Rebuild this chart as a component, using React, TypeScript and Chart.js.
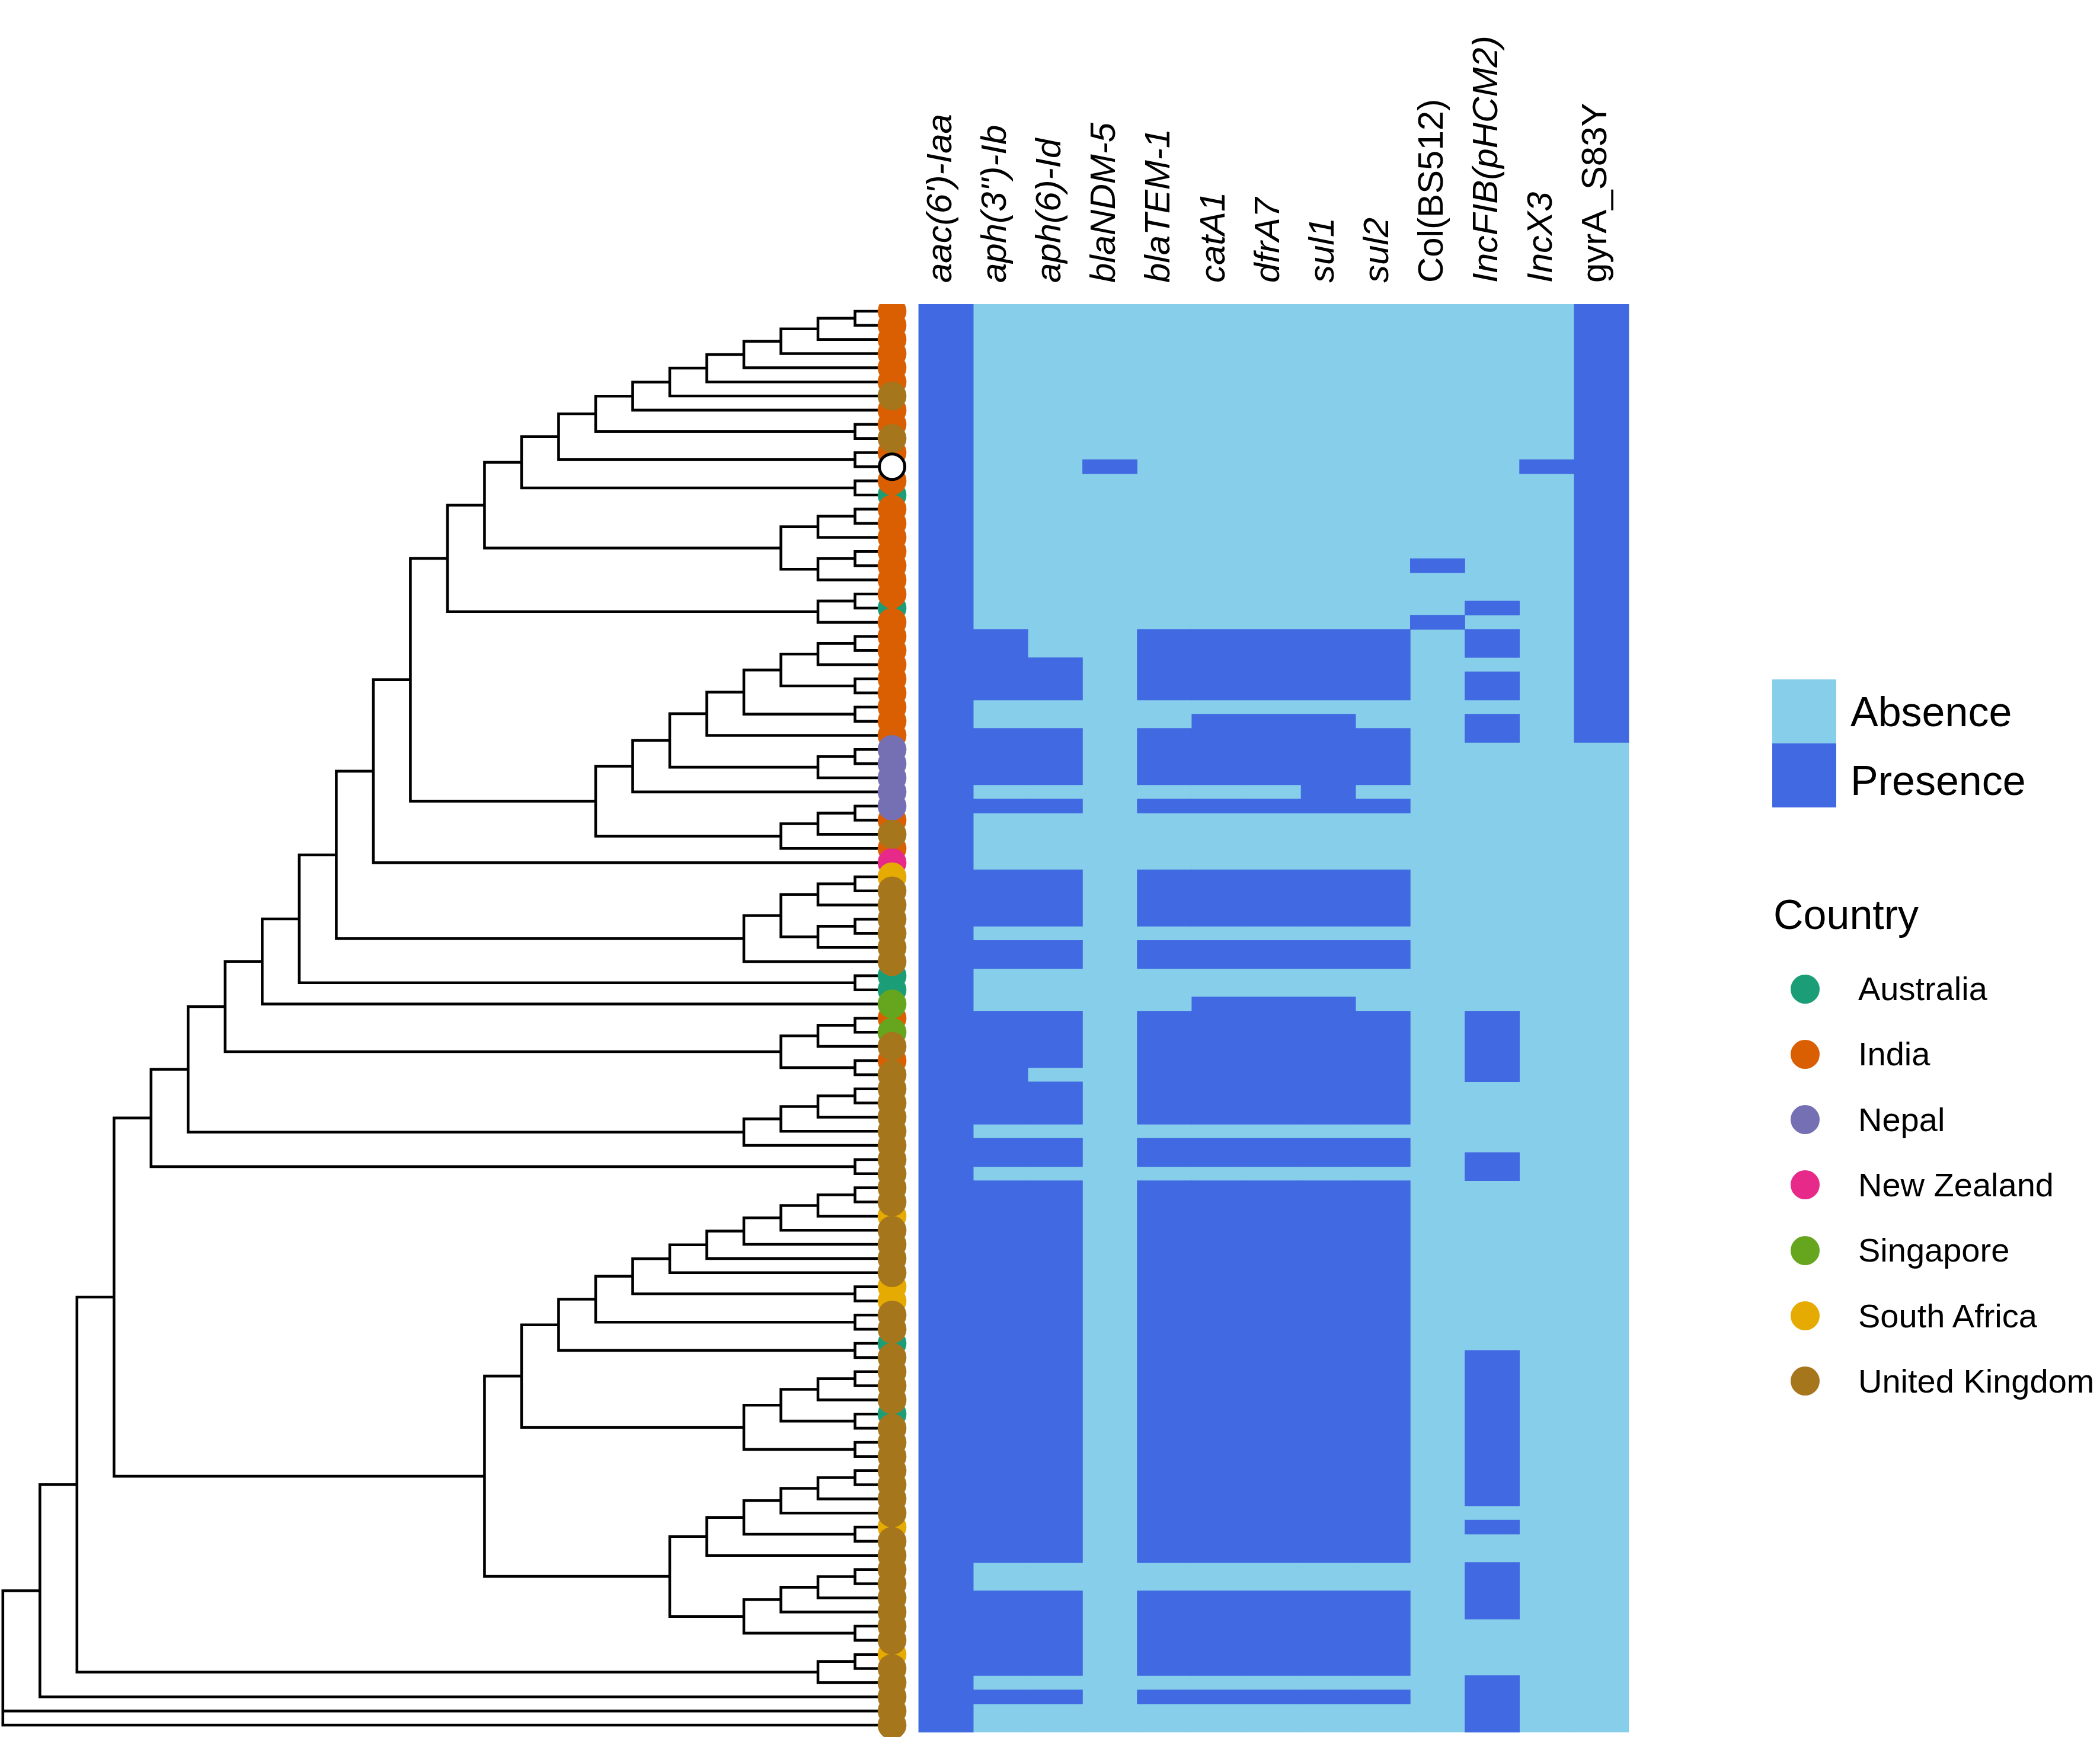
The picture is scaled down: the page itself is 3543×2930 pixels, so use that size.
import React, { useEffect, useRef } from "react";
import { Chart, registerables } from "chart.js";

Chart.register(...registerables);

// ---------------- data ----------------
const genes = [
  "aac(6')-Iaa",
  "aph(3'')-Ib",
  "aph(6)-Id",
  "blaNDM-5",
  "blaTEM-1",
  "catA1",
  "dfrA7",
  "sul1",
  "sul2",
  "Col(BS512)",
  "IncFIB(pHCM2)",
  "IncX3",
  "gyrA_S83Y",
];
const geneItalic = [true, true, true, true, true, true, true, true, true, false, true, true, false];

// presence of each gene: inclusive ranges of tip rows (row 0 = top tip)
const presAac: number[][] = [[0, 100]];
const presAph3: number[][] = [[23, 27], [30, 33], [35, 35], [40, 43], [45, 46], [50, 57], [59, 60], [62, 88], [91, 96], [98, 98]];
const presAph6: number[][] = [[25, 27], [30, 33], [35, 35], [40, 43], [45, 46], [50, 53], [55, 57], [59, 60], [62, 88], [91, 96], [98, 98]];
const presNdm: number[][] = [[11, 11]];
const presTem: number[][] = [[23, 27], [30, 33], [35, 35], [40, 43], [45, 46], [50, 57], [59, 60], [62, 88], [91, 96], [98, 98]];
const presCat: number[][] = [[23, 27], [29, 33], [35, 35], [40, 43], [45, 46], [49, 57], [59, 60], [62, 88], [91, 96], [98, 98]];
const presDfr: number[][] = [[23, 27], [29, 33], [35, 35], [40, 43], [45, 46], [49, 57], [59, 60], [62, 88], [91, 96], [98, 98]];
const presSul1: number[][] = [[23, 27], [29, 35], [40, 43], [45, 46], [49, 57], [59, 60], [62, 88], [91, 96], [98, 98]];
const presSul2: number[][] = [[23, 27], [30, 33], [35, 35], [40, 43], [45, 46], [50, 57], [59, 60], [62, 88], [91, 96], [98, 98]];
const presCol: number[][] = [[18, 18], [22, 22]];
const presIncFIB: number[][] = [[21, 21], [23, 24], [26, 27], [29, 30], [50, 54], [60, 61], [74, 84], [86, 86], [89, 92], [97, 100]];
const presIncX3: number[][] = [[11, 11]];
const presGyrA: number[][] = [[0, 30]];
const presence = [presAac, presAph3, presAph6, presNdm, presTem, presCat, presDfr, presSul1, presSul2, presCol, presIncFIB, presIncX3, presGyrA];

const NROWS = 101;
const statusLabels = ["Absence", "Presence"];
const statusColors = ["#87CEEB", "#4169E1"];

const countries = ["Australia", "India", "Nepal", "New Zealand", "Singapore", "South Africa", "United Kingdom"];
const countryColors = ["#1B9E77", "#D95F02", "#7570B3", "#E7298A", "#66A61E", "#E6AB02", "#A6761D"];

// country of each tip, top to bottom, as [country, number of consecutive tips]
const tipRuns: [string, number][] = [
  ["India", 6], ["United Kingdom", 1], ["India", 2], ["United Kingdom", 1], ["India", 1],
  ["Reference", 1], ["India", 1], ["Australia", 1], ["India", 7], ["Australia", 1], ["India", 9],
  ["Nepal", 5], ["India", 1], ["United Kingdom", 1], ["India", 1], ["New Zealand", 1], ["South Africa", 1],
  ["United Kingdom", 6], ["Australia", 2], ["Singapore", 1], ["India", 1], ["Singapore", 1],
  ["United Kingdom", 1], ["India", 1], ["United Kingdom", 10], ["South Africa", 1], ["United Kingdom", 4],
  ["South Africa", 2], ["United Kingdom", 2], ["Australia", 1], ["United Kingdom", 4], ["Australia", 1],
  ["United Kingdom", 7], ["South Africa", 1], ["United Kingdom", 8], ["South Africa", 1], ["United Kingdom", 5],
];

// tree (tips = row numbers, internal node label = node depth in branch steps)
const TIP_DEPTH = 24;
const cladeIndiaTop =
  "((((((((((((0,1)23,2)22,3)21,4)20,5)19,6)18,7)17,(8,9)23)16,(10,11)23)15,(12,13)23)14,(((14,15)23,16)22,((17,18)23,19)22)21)13,((20,21)23,22)22)12";
const cladeIndiaLow = "(((((23,24)23,25)22,(26,27)23)21,(28,29)23)20,30)19";
const cladeNepal = "((31,32)23,33)22";
const cladeMixA = "(((35,36)23,37)22,38)21";
const cladeUkA = "((((40,41)23,42)22,((43,44)23,45)22)21,46)20";
const cladeSgp = "(((50,51)23,52)22,(53,54)23)21";
const cladeUkB = "((((55,56)23,57)22,58)21,59)20";
const cladeUkC = "(((((((((62,63)23,64)22,65)21,66)20,67)19,68)18,(69,70)23)17,(71,72)23)16,(73,74)23)15";
const cladeUkD = "((((75,76)23,77)22,(78,79)23)21,(80,81)23)20";
const cladeUkE = "(((((82,83)23,84)22,85)21,(86,87)23)20,88)19";
const cladeUkF = "((((89,90)23,91)22,92)21,(93,94)23)20";
const cladeUkG = "((95,96)23,97)22";

const cladeD16 = `(((${cladeIndiaLow},${cladeNepal})18,34)17,${cladeMixA})16`;
const cladeD4 = `(((((((((${cladeIndiaTop},${cladeD16})11,39)10,${cladeUkA})9,(47,48)23)8,49)7,${cladeSgp})6,${cladeUkB})5,(60,61)23)4`;
const cladeD13 = `((${cladeUkC},${cladeUkD})14,(${cladeUkE},${cladeUkF})18)13`;
const newick = `((((${cladeD4},${cladeD13})3,${cladeUkG})2,98)1,99,100)0`;

// ---------------- layout ----------------
const W = 3543;
const H = 2930;
const FONT = "'Liberation Sans', Arial, Helvetica, sans-serif";
const TOP = 513; // top edge of heatmap / plot area
const ROW_H = 23.85;
const TREE_X0 = 4.8;
const TREE_UNIT = 62.51;
const HEAT_X0 = 1550;
const HEAT_COL = 92.15;

const TREE_MIN = -TREE_X0 / TREE_UNIT;
const TREE_MAX = (W - TREE_X0) / TREE_UNIT;
const HEAT_MIN = -HEAT_X0 / HEAT_COL;
const HEAT_MAX = (W - HEAT_X0) / HEAT_COL;
const Y_MIN = -0.5;
const Y_MAX = -0.5 + (H - TOP) / ROW_H;

type TNode = { depth: number; tip?: number; children?: TNode[]; y: number };

function parseTree(s: string): TNode {
  let i = 0;
  const num = () => {
    const j = i;
    while (i < s.length && /[0-9.]/.test(s[i])) i++;
    return parseFloat(s.slice(j, i));
  };
  const node = (): TNode => {
    if (s[i] === "(") {
      i++;
      const children: TNode[] = [node()];
      while (s[i] === ",") {
        i++;
        children.push(node());
      }
      i++;
      const depth = num();
      const y = (children[0].y + children[children.length - 1].y) / 2;
      return { depth, children, y };
    }
    const t = num();
    return { depth: TIP_DEPTH, tip: t, y: t };
  };
  return node();
}

function treePoints(n: TNode, out: any[]) {
  if (!n.children) return;
  n.children.forEach((c) => treePoints(c, out));
  const f = n.children[0];
  const l = n.children[n.children.length - 1];
  out.push({ x: f.depth, y: f.y }, { x: n.depth, y: f.y }, { x: n.depth, y: l.y }, { x: l.depth, y: l.y }, { x: l.depth, y: null });
  for (let k = 1; k < n.children.length - 1; k++) {
    const c = n.children[k];
    out.push({ x: n.depth, y: c.y }, { x: c.depth, y: c.y }, { x: c.depth, y: null });
  }
}

function zeroPadding(s: any) {
  s.paddingLeft = 0;
  s.paddingRight = 0;
  s.paddingTop = 0;
  s.paddingBottom = 0;
}

function fixRange(min: number, max: number) {
  return (s: any) => {
    s.min = min;
    s.max = max;
  };
}

function buildConfig(): any {
  const tree = parseTree(newick);
  const pts: any[] = [];
  treePoints(tree, pts);

  const tipCountry: string[] = [];
  tipRuns.forEach(([c, n]) => {
    for (let k = 0; k < n; k++) tipCountry.push(c);
  });

  const absence = genes.map((_, g) => ({ x: g + 0.5, y: [-0.5, NROWS - 0.5] }));
  const pres: any[] = [];
  presence.forEach((ranges, g) => ranges.forEach(([a, b]) => pres.push({ x: g + 0.5, y: [a - 0.5, b + 0.5] })));

  const barCommon = {
    type: "bar",
    xAxisID: "xHeat",
    yAxisID: "y",
    grouped: false,
    barPercentage: 1,
    categoryPercentage: 1,
    borderWidth: 0,
    borderSkipped: false,
  };

  const datasets: any[] = [
    { ...barCommon, label: statusLabels[0], data: absence, backgroundColor: statusColors[0], order: 100 },
    { ...barCommon, label: statusLabels[1], data: pres, backgroundColor: statusColors[1], order: 99 },
    {
      type: "line",
      label: "tree",
      xAxisID: "xTree",
      yAxisID: "y",
      data: pts,
      borderColor: "#000000",
      borderWidth: 4.6,
      pointRadius: 0,
      spanGaps: false,
      tension: 0,
      fill: false,
      borderJoinStyle: "miter",
      borderCapStyle: "butt",
      order: 98,
    },
  ];
  countries.forEach((c, ci) => {
    datasets.push({
      type: "scatter",
      label: c,
      xAxisID: "xTree",
      yAxisID: "y",
      data: tipCountry.map((tc, r) => (tc === c ? { x: TIP_DEPTH, y: r } : null)).filter((p) => p),
      backgroundColor: countryColors[ci],
      borderWidth: 0,
      pointRadius: 24.3,
      order: 20 - ci,
    });
  });
  datasets.push({
    type: "scatter",
    label: "Reference",
    xAxisID: "xTree",
    yAxisID: "y",
    data: tipCountry.map((tc, r) => (tc === "Reference" ? { x: TIP_DEPTH, y: r } : null)).filter((p) => p),
    backgroundColor: "#ffffff",
    borderColor: "#000000",
    borderWidth: 5,
    pointRadius: 21.5,
    order: 1,
  });

  return {
    type: "scatter",
    data: { datasets },
    options: {
      animation: false,
      responsive: false,
      maintainAspectRatio: false,
      devicePixelRatio: 1,
      events: [],
      layout: { padding: 0, autoPadding: false },
      plugins: { legend: { display: false }, tooltip: { enabled: false }, title: { display: false } },
      scales: {
        xTree: {
          type: "linear",
          axis: "x",
          display: false,
          offset: false,
          bounds: "data",
          min: TREE_MIN,
          max: TREE_MAX,
          afterBuildTicks: fixRange(TREE_MIN, TREE_MAX),
          afterFit: zeroPadding,
        },
        xHeat: {
          type: "linear",
          axis: "x",
          position: "top",
          offset: false,
          bounds: "data",
          min: HEAT_MIN,
          max: HEAT_MAX,
          grid: { display: false, drawTicks: false, offset: false },
          border: { display: false },
          afterBuildTicks: (s: any) => {
            s.ticks = genes.map((_, i) => ({ value: i + 0.5 }));
            s.min = HEAT_MIN;
            s.max = HEAT_MAX;
          },
          afterFit: (s: any) => {
            s.height = TOP;
            zeroPadding(s);
          },
          ticks: {
            autoSkip: false,
            minRotation: 90,
            maxRotation: 90,
            padding: 36,
            labelOffset: 64,
            color: "#000000",
            font: (ctx: any) => ({ family: FONT, size: 60, style: geneItalic[ctx.index] ? "italic" : "normal" }),
            callback: (_v: any, i: number) => genes[i],
          },
        },
        y: {
          type: "linear",
          axis: "y",
          display: false,
          offset: false,
          reverse: true,
          bounds: "data",
          min: Y_MIN,
          max: Y_MAX,
          afterBuildTicks: fixRange(Y_MIN, Y_MAX),
          afterFit: zeroPadding,
        },
      },
    },
  };
}

// legend geometry (px)
const KEY_X = 2990;
const KEY_SIZE = 108;
const KEY_TOPS = [1146, 1254];
const KEY_TEXT_X = 3122;
const KEY_TEXT_CY = [1201, 1317];
const TITLE_CY = 1543;
const TITLE_X = 2992;
const DOT_CX = 3045;
const DOT_D = 49;
const DOT_CY0 = 1668;
const DOT_STEP = 110.3;
const DOT_TEXT_X = 3135;

function TextAt({ x, cy, size, children }: { x: number; cy: number; size: number; children: React.ReactNode }) {
  return (
    <div
      style={{
        position: "absolute",
        left: x,
        top: cy - 60,
        height: 120,
        lineHeight: "120px",
        fontSize: size,
        fontFamily: FONT,
        color: "#000",
        whiteSpace: "nowrap",
      }}
    >
      {children}
    </div>
  );
}

export default function App() {
  const canvasRef = useRef<HTMLCanvasElement>(null);
  useEffect(() => {
    document.body.style.margin = "0";
    const chart = new Chart(canvasRef.current as HTMLCanvasElement, buildConfig());
    return () => chart.destroy();
  }, []);
  return (
    <div style={{ position: "relative", width: W, height: H, background: "#ffffff", overflow: "hidden" }}>
      <canvas ref={canvasRef} width={W} height={H} style={{ position: "absolute", left: 0, top: 0, width: W, height: H }} />
      {statusLabels.map((s, i) => (
        <React.Fragment key={s}>
          <div
            style={{
              position: "absolute",
              left: KEY_X,
              top: KEY_TOPS[i],
              width: KEY_SIZE,
              height: KEY_SIZE,
              background: statusColors[i],
            }}
          />
          <TextAt x={KEY_TEXT_X} cy={KEY_TEXT_CY[i]} size={70}>
            {s}
          </TextAt>
        </React.Fragment>
      ))}
      <TextAt x={TITLE_X} cy={TITLE_CY} size={70}>
        Country
      </TextAt>
      {countries.map((c, i) => (
        <React.Fragment key={c}>
          <div
            style={{
              position: "absolute",
              left: DOT_CX - DOT_D / 2,
              top: DOT_CY0 + i * DOT_STEP - DOT_D / 2,
              width: DOT_D,
              height: DOT_D,
              borderRadius: "50%",
              background: countryColors[i],
            }}
          />
          <TextAt x={DOT_TEXT_X} cy={DOT_CY0 + i * DOT_STEP} size={56}>
            {c}
          </TextAt>
        </React.Fragment>
      ))}
    </div>
  );
}
